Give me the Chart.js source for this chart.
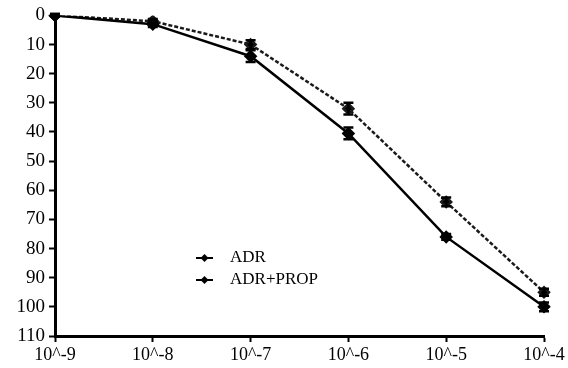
<!DOCTYPE html>
<html>
<head>
<meta charset="utf-8">
<script src="https://cdn.jsdelivr.net/npm/chart.js@4.4.1/dist/chart.umd.min.js"></script>
<style>
  html, body { margin: 0; padding: 0; background: #fff; }
  #wrap { width: 568px; height: 368px; position: relative; }
</style>
</head>
<body>
<div id="wrap"><canvas id="doseChart"></canvas></div>
<script>
'use strict';

var doses = ['10^-9', '10^-8', '10^-7', '10^-6', '10^-5', '10^-4'];
var yTicks = [0, 10, 20, 30, 40, 50, 60, 70, 80, 90, 100, 110];
var adrValues = [0, 3, 14, 40.5, 76, 100];
var adrErrors = [0.5, 1, 2, 2, 1, 1.5];
var adrPropValues = [0, 2, 10, 32, 64, 95];
var adrPropErrors = [0.5, 0.8, 1.5, 2, 1.5, 1.2];

var serif = '"Liberation Serif", "Times New Roman", serif';

var errorBars = {
  id: 'errorBars',
  afterDatasetsDraw: function (chart) {
    var ctx = chart.ctx;
    var y = chart.scales.y;
    var errs = [adrErrors, adrPropErrors];
    chart.data.datasets.forEach(function (ds, i) {
      var meta = chart.getDatasetMeta(i);
      meta.data.forEach(function (pt, j) {
        var e = errs[i][j];
        var top = y.getPixelForValue(ds.data[j] - e);
        var bot = y.getPixelForValue(ds.data[j] + e);
        ctx.save();
        ctx.strokeStyle = '#000';
        ctx.lineWidth = 2.5;
        ctx.beginPath();
        ctx.moveTo(pt.x, top); ctx.lineTo(pt.x, bot);
        ctx.moveTo(pt.x - 5, top); ctx.lineTo(pt.x + 5, top);
        ctx.moveTo(pt.x - 5, bot); ctx.lineTo(pt.x + 5, bot);
        ctx.stroke();
        ctx.restore();
      });
    });
  }
};

var legendBox = {
  id: 'legendBox',
  afterDraw: function (chart) {
    var ctx = chart.ctx;
    ctx.save();
    ctx.font = '17px ' + serif;
    ctx.fillStyle = '#000';
    ctx.textBaseline = 'middle';
    chart.data.datasets.forEach(function (ds, i) {
      var yy = 258 + i * 22;
      ctx.strokeStyle = '#000';
      ctx.lineWidth = 2;
      ctx.beginPath();
      ctx.moveTo(196, yy); ctx.lineTo(213, yy);
      ctx.stroke();
      ctx.beginPath();
      ctx.moveTo(204.5, yy - 4); ctx.lineTo(208.5, yy); ctx.lineTo(204.5, yy + 4); ctx.lineTo(200.5, yy);
      ctx.closePath();
      ctx.fill();
      ctx.fillText(ds.label, 230, yy);
    });
    ctx.restore();
  }
};

new Chart(document.getElementById('doseChart').getContext('2d'), {
  type: 'line',
  data: {
    labels: doses,
    datasets: [{
      label: 'ADR',
      data: adrValues,
      borderColor: '#000',
      backgroundColor: '#000',
      borderWidth: 2.5,
      pointStyle: 'rectRot',
      pointRadius: 5,
      tension: 0
    }, {
      label: 'ADR+PROP',
      data: adrPropValues,
      borderColor: '#1a1a1a',
      backgroundColor: '#000',
      borderWidth: 2.5,
      borderDash: [4, 2],
      pointStyle: 'rectRot',
      pointRadius: 5,
      tension: 0
    }]
  },
  options: {
    animation: false,
    responsive: true,
    maintainAspectRatio: false,
    layout: { padding: { top: 12, right: 24, left: 0, bottom: 0 } },
    plugins: { legend: { display: false }, tooltip: { enabled: false } },
    scales: {
      x: {
        offset: false,
        afterFit: function (s) { s.height = 32; },
        grid: { drawOnChartArea: false, drawTicks: true, tickLength: 6, tickWidth: 2, tickColor: '#000' },
        border: { display: true, width: 3, color: '#000' },
        ticks: { color: '#000', padding: 2, maxRotation: 0, font: { family: serif, size: 18 } }
      },
      y: {
        reverse: true,
        min: 0,
        max: 110,
        afterBuildTicks: function (s) { s.ticks = yTicks.map(function (v) { return { value: v }; }); },
        afterFit: function (s) { s.width = 55; },
        grid: { drawOnChartArea: false, drawTicks: true, tickLength: 6, tickWidth: 2, tickColor: '#000' },
        border: { display: true, width: 3, color: '#000' },
        ticks: { color: '#000', padding: 4, font: { family: serif, size: 19 } }
      }
    }
  },
  plugins: [errorBars, legendBox]
});
</script>
</body>
</html>
